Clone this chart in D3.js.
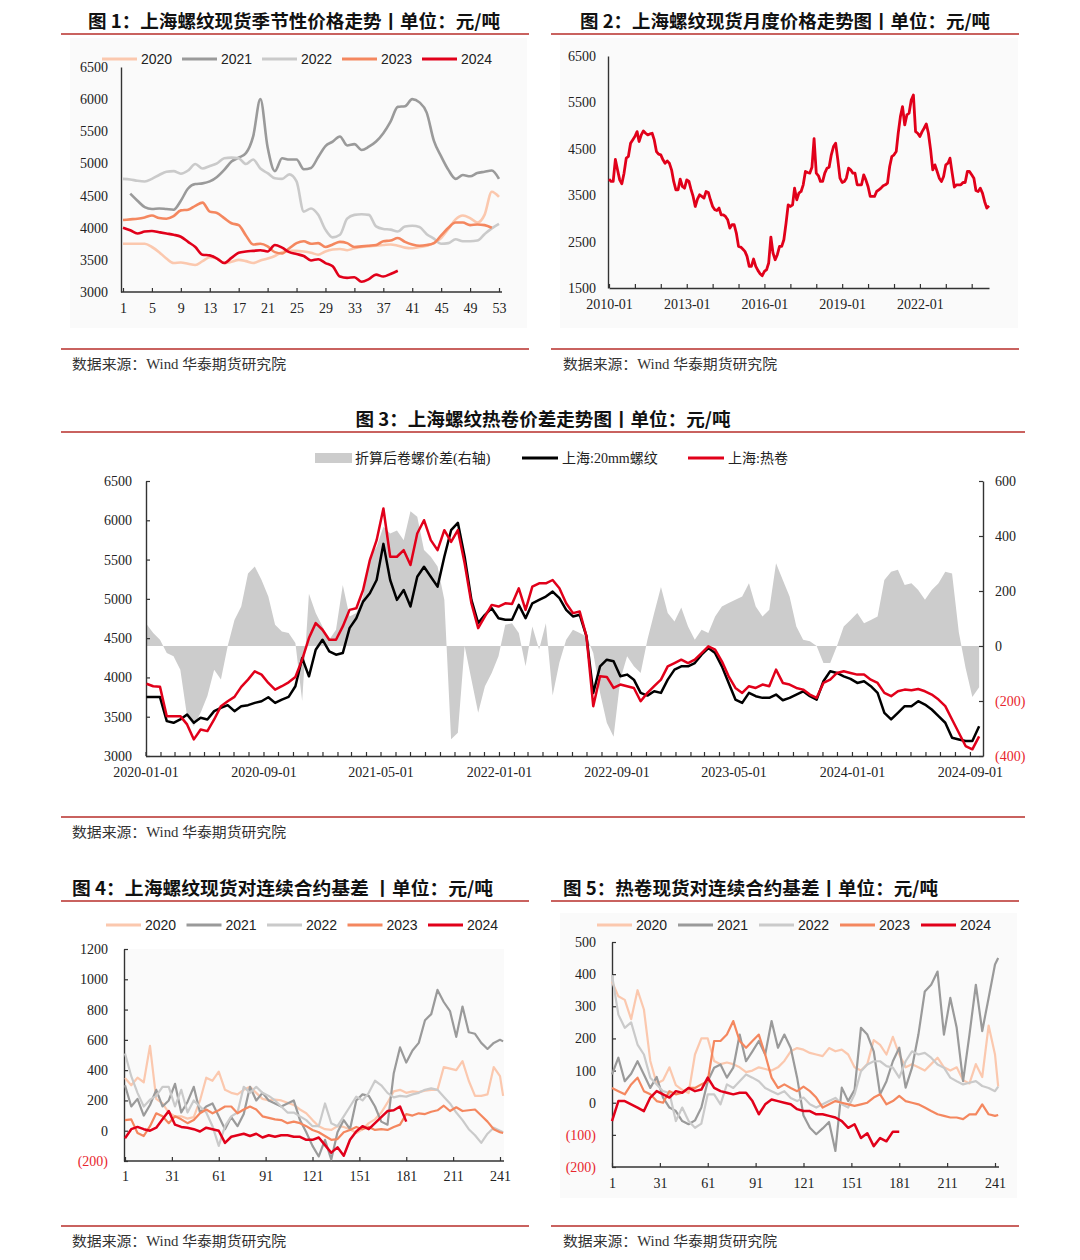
<!DOCTYPE html>
<html>
<head>
<meta charset="utf-8">
<script src="https://cdn.jsdelivr.net/npm/d3@7"></script>
<style>
  body { margin: 0; background: #fff; }
  svg text { font-family: "Liberation Serif", "Noto Sans CJK SC", serif; }
</style>
</head>
<body>
<div id="chart"></div>
<script>
// ---- data ----
var yearNames = ["2020", "2021", "2022", "2023", "2024"];
var yearColors = ["#fbc8ae", "#9a9a9a", "#cacaca", "#f4875f", "#e1001a"];

// fig 1: weekly rebar spot, week 1..53
var p1YTicks = [3000, 3500, 4000, 4500, 5000, 5500, 6000, 6500];
var p1XTicks = [1, 5, 9, 13, 17, 21, 25, 29, 33, 37, 41, 45, 49, 53];
var p1_2020 = [3750,3750,3750,3750,3700,3620,3520,3450,3460,3440,3420,3480,3540,3520,3450,3470,3500,3480,3450,3490,3520,3560,3620,3640,3640,3630,3610,3580,3630,3660,3670,3650,3680,3700,3710,3720,3730,3740,3720,3690,3680,3700,3720,3760,3840,3980,4130,4190,4150,4080,4200,4560,4480];
var p1_2021 = [null,4530,4420,4320,4290,4300,4290,4280,4420,4610,4680,4690,4720,4790,4900,5030,5090,5160,5420,6000,5250,4880,5080,5060,5060,4910,4930,5100,5270,5340,5420,5280,5300,5210,5260,5340,5470,5650,5880,5890,6000,5950,5790,5350,5110,4900,4760,4820,4800,4850,4870,4890,4760];
var p1_2022 = [4760,4750,4730,4720,4760,4820,4870,4880,4840,4890,4990,4920,4960,5000,5080,5090,5080,4990,5060,4920,4850,4770,4760,4830,4720,4250,4300,4200,3970,3850,3890,4140,4200,4210,4200,4020,3980,3970,3940,4020,4030,4010,3900,3830,3750,3760,3820,3790,3790,3800,3900,3990,4060];
var p1_2023 = [4120,4130,4140,4160,4190,4150,4140,4180,4270,4280,4340,4390,4250,4230,4150,4070,4040,3880,3740,3750,3710,3620,3600,3680,3760,3790,3750,3760,3700,3740,3780,3760,3700,3710,3720,3730,3790,3800,3840,3780,3740,3720,3730,3760,3880,4000,4080,4080,4040,4050,4040,4000,null];
var p1_2024 = [4000,3960,3910,3940,3950,3930,3910,3890,3860,3780,3700,3580,3570,3520,3450,3530,3610,3630,3640,3650,3630,3730,3690,3620,3590,3560,3490,3510,3450,3400,3240,3220,3230,3160,3200,3270,3240,3280,3330];

// fig 2: monthly rebar spot 2010-01 .. 2024-09
var p2YTicks = [1500, 2500, 3500, 4500, 5500, 6500];
var p2XTicks = ["2010-01", "2013-01", "2016-01", "2019-01", "2022-01"];
var p2Price = [
  3846,3796,3800,4270,4050,3831,3745,3975,4298,4334,4620,4692,
  4764,4870,4656,4800,4886,4835,4800,4821,4835,4692,4441,4384,
  4370,4262,4190,4240,4190,4047,3796,3616,3616,3846,3688,3652,
  3831,3796,3630,3473,3257,3415,3509,3473,3437,3580,3559,3401,
  3257,3186,3171,3222,3078,3078,3042,2971,2791,2863,2863,2684,
  2397,2382,2339,2289,2181,1966,1966,2124,1966,1880,1808,1765,
  1858,1895,2038,2598,2253,2110,2217,2397,2397,2540,2899,3293,
  3257,3293,3652,3401,3544,3580,3724,4011,3989,3975,4100,4720,
  3975,3918,3796,3796,3975,4082,4104,4370,4549,4620,4262,3867,
  3774,3796,3867,4082,4047,3975,3975,3724,3724,3724,3939,3831,
  3688,3473,3473,3473,3580,3616,3652,3702,3724,3760,4118,4334,
  4370,4441,4835,5194,5409,5014,5230,5266,5553,5661,4870,4835,
  4764,4870,4943,5037,4835,4477,4047,4154,4011,3867,3796,3903,
  4154,4190,4298,3975,3674,3724,3724,3724,3774,3774,4011,4011,
  3939,3867,3602,3580,3652,3544,3365,3222,3271
];

// fig 3: bi-weekly from 2020-01-03
var p3LeftTicks = [3000, 3500, 4000, 4500, 5000, 5500, 6000, 6500];
var p3RightTicks = [-400, -200, 0, 200, 400, 600];
var p3XTicks = ["2020-01-01", "2020-09-01", "2021-05-01", "2022-01-01", "2022-09-01", "2023-05-01", "2024-01-01", "2024-09-01"];
var p3Spread = [80,47,23,-25,-37,-86,-255,-291,-243,-182,-86,-122,0,95,144,264,289,240,180,77,53,47,11,-200,190,120,71,23,59,222,107,120,180,325,361,434,409,420,385,490,470,349,325,289,168,-339,-315,0,-122,-243,-146,-98,-37,77,83,47,-74,71,-13,83,-180,-60,23,59,47,35,-25,-170,-279,-330,-122,-37,-74,-98,23,120,215,120,89,140,71,23,59,47,107,144,156,168,180,228,144,107,132,301,240,180,71,23,17,0,-62,-62,0,71,95,120,83,95,107,240,270,277,222,228,204,168,204,228,270,264,50,-80,-185,-150];
var p3Rebar = [3750,3750,3750,3444,3423,3465,3528,3423,3486,3465,3571,3613,3647,3571,3634,3647,3676,3697,3748,3676,3718,3752,3888,4247,4014,4353,4480,4331,4289,4310,4627,4754,4965,5071,5240,5700,5240,4987,5113,4902,5282,5409,5282,5156,5536,5874,5968,5536,4987,4691,4796,4881,4754,4733,4733,4923,4754,4944,4987,5029,5092,5008,4860,4776,4797,4522,3803,4141,4226,4205,4014,4036,3972,3803,3769,3824,3803,3972,4099,4141,4141,4183,4289,4374,4310,4141,3930,3718,3676,3803,3761,3740,3740,3782,3710,3740,3782,3824,3761,3718,3951,4078,4057,4014,3981,3930,3951,3888,3803,3549,3465,3549,3634,3634,3697,3655,3592,3507,3423,3232,3211,3190,3190,3380];
var p3Hrc = [3920,3888,3880,3507,3507,3507,3402,3211,3338,3317,3465,3634,3697,3752,3880,3972,4078,4036,3930,3845,3888,3938,4006,4226,4501,4691,4607,4480,4480,4649,4860,4881,5113,5494,5747,6150,5536,5536,5620,5430,5832,6001,5747,5620,5874,5726,5874,5452,4944,4627,4776,4923,4902,4944,4936,5134,4860,5156,5198,5198,5240,5134,4944,4818,4839,4522,3634,4014,4006,3866,3909,3888,3866,3697,3803,3888,3972,4141,4183,4226,4183,4226,4310,4395,4353,4205,4014,3866,3803,3888,3866,3909,3888,4099,3930,3909,3866,3845,3782,3740,3930,3972,4057,4078,4057,4036,4036,3972,3930,3803,3761,3824,3845,3836,3853,3824,3782,3718,3634,3465,3296,3127,3085,3250];

// fig 4 / fig 5: basis, trading day 1..243 sampled every 4 days
var basisXTicks = [1, 31, 61, 91, 121, 151, 181, 211, 241];
var p4YTicks = [-200, 0, 200, 400, 600, 800, 1000, 1200];
var p4_2020 = [348,300,350,320,560,210,180,120,95,95,80,90,200,350,330,390,270,250,240,270,290,250,210,200,205,200,185,170,140,115,70,30,10,5,30,25,10,-15,10,50,75,120,185,260,270,250,260,255,265,270,270,420,410,400,460,330,230,230,240,420,360,230];
var p4_2021 = [300,160,210,100,170,270,160,200,310,120,190,290,120,160,180,95,10,90,30,110,290,200,250,200,180,160,180,200,70,-10,-100,-170,-60,-190,-10,70,10,200,240,230,160,60,40,380,550,450,530,580,730,770,930,850,790,620,820,650,640,580,540,580,600,590];
var p4_2022 = [510,360,250,160,205,230,290,290,160,270,120,200,160,120,30,-100,30,95,120,290,250,290,250,230,200,160,120,120,95,70,30,30,180,50,30,95,160,225,200,250,330,300,250,220,230,225,240,250,270,280,270,225,180,120,70,10,-30,-80,-20,20,0,-10];
var p4_2023 = [70,75,-15,-35,30,115,95,50,95,75,50,70,115,140,115,135,160,160,115,140,160,140,95,85,75,70,50,60,50,30,5,-10,-35,-60,-55,-10,5,25,10,25,5,10,5,25,40,110,100,115,110,125,135,165,130,155,130,135,140,100,60,10,-10,-15];
var p4_2024 = [-50,10,25,10,0,20,75,130,40,25,20,10,-5,20,10,0,-80,-40,-30,-20,-35,-20,-45,-30,-40,-30,-30,-40,-40,-60,-60,-45,-95,-145,-110,-165,-60,-5,30,10,50,90,130,135,160,60];

var p5YTicks = [-200, -100, 0, 100, 200, 300, 400, 500];
var p5_2020 = [377,331,320,260,350,290,130,60,70,110,55,40,30,150,200,200,130,120,125,120,110,95,100,110,105,100,110,130,160,170,165,155,150,145,170,160,165,150,110,100,120,195,180,150,205,150,110,120,110,100,120,140,110,100,110,70,60,120,80,240,150,50];
var p5_2021 = [88,140,67,90,129,88,46,80,16,-15,-26,-57,-67,-55,-15,67,109,119,78,109,212,129,160,192,150,254,171,212,170,78,-40,-78,-98,-80,-60,-150,47,5,40,233,212,160,26,67,129,171,47,109,212,346,367,408,212,326,233,67,212,367,223,326,430,450];
var p5_2022 = [397,274,233,250,181,150,78,57,36,30,-57,-15,-57,-78,-65,26,26,-5,57,46,67,88,78,67,46,36,26,36,15,5,16,-5,-15,-5,5,15,-5,-15,26,98,119,129,129,114,109,78,129,160,150,155,140,119,109,78,67,57,62,67,52,46,36,50];
var p5_2023 = [46,36,26,57,78,36,26,5,0,36,26,31,46,46,57,67,192,192,212,254,192,171,192,212,150,78,46,57,46,36,50,36,16,-15,-5,5,0,-5,-10,-5,0,16,26,-5,5,21,5,0,-5,-15,-26,-36,-41,-46,-46,-51,-36,-36,-5,-36,-41,-38];
var p5_2024 = [-57,5,5,-5,-15,-26,16,36,26,16,36,31,46,36,41,78,46,36,31,26,31,31,5,-36,-5,10,5,0,-5,-20,-26,-26,-36,-36,-41,-46,-57,-78,-67,-110,-95,-135,-110,-120,-90,-90];

// ---- helpers ----
var svg = d3.select("#chart").append("svg")
    .attr("width", 1080)
    .attr("height", 1260);

var ruleColor = "#c9625f";
var negRed = "#e8262d";
var cjkSans = "'Noto Sans CJK SC', sans-serif";

function rule(x1, x2, y) {
    svg.append("line")
        .attr("x1", x1).attr("x2", x2).attr("y1", y).attr("y2", y)
        .attr("stroke", ruleColor).attr("stroke-width", 2);
}

function title(txt, x, y, len, anchor) {
    svg.append("text")
        .attr("x", x).attr("y", y)
        .attr("text-anchor", anchor || "start")
        .attr("textLength", len).attr("lengthAdjust", "spacingAndGlyphs")
        .style("font-family", cjkSans)
        .style("font-weight", "bold")
        .style("font-size", "18px")
        .attr("fill", "#111")
        .text(txt);
}

function source(x, y) {
    svg.append("text")
        .attr("x", x).attr("y", y)
        .attr("textLength", 214).attr("lengthAdjust", "spacingAndGlyphs")
        .style("font-size", "14px")
        .attr("fill", "#333")
        .text("数据来源：Wind  华泰期货研究院");
}

// plain numbers, negatives in brackets
function negFmt(v) {
    return v < 0 ? "(" + Math.abs(v) + ")" : String(v);
}

function styleAxis(g) {
    g.select(".domain").attr("stroke", "#333").attr("stroke-width", 1.4);
    g.selectAll(".tick line").attr("stroke", "#333").attr("stroke-width", 1.2);
    g.selectAll(".tick text")
        .style("font-family", "'Liberation Serif', serif")
        .style("font-size", "14px")
        .attr("fill", function(d) { return (typeof d === "number" && d < 0) ? negRed : "#222"; });
}

function yearLegend(x0, step, y) {
    yearNames.forEach(function(name, i) {
        var lx = x0 + i * step;
        svg.append("line")
            .attr("x1", lx).attr("x2", lx + 35).attr("y1", y).attr("y2", y)
            .attr("stroke", yearColors[i]).attr("stroke-width", 3);
        svg.append("text")
            .attr("x", lx + 39).attr("y", y + 5)
            .style("font-family", "'Liberation Sans', Arial, sans-serif")
            .style("font-size", "14px")
            .attr("fill", "#222")
            .text(name);
    });
}

function drawLine(g, xs, ys, xAcc, vals, color, width, curve) {
    var line = d3.line()
        .defined(function(d) { return d != null; })
        .x(function(d, i) { return xs(xAcc[i]); })
        .y(function(d) { return ys(d); });
    if (curve) line.curve(curve);
    g.append("path")
        .attr("fill", "none")
        .attr("stroke", color)
        .attr("stroke-width", width)
        .attr("stroke-linejoin", "round")
        .attr("d", line(vals));
}

// ---- fig 1 ----
var g1 = svg.append("g");
g1.append("rect").attr("x", 70).attr("y", 38).attr("width", 457).attr("height", 290).attr("fill", "#fafafa");
title("图 1：上海螺纹现货季节性价格走势丨单位：元/吨", 88, 28, 412);
rule(61, 529, 34);

var weeks = d3.range(1, 54);
var x1 = d3.scaleLinear().domain([1, 53]).range([123, 499]);
var y1 = d3.scaleLinear().domain([3000, 6500]).range([292, 67]);

g1.append("g").attr("transform", "translate(0,292)")
    .call(d3.axisBottom(x1).tickValues(p1XTicks).tickSizeInner(-4).tickSizeOuter(0).tickPadding(11))
    .call(styleAxis);
g1.select("g .domain").attr("d", "M121,0H502");
g1.append("g").attr("transform", "translate(121,0)")
    .call(d3.axisLeft(y1).tickValues(p1YTicks).tickSizeInner(0).tickSizeOuter(0).tickPadding(13).tickFormat(negFmt))
    .call(styleAxis);

[p1_2020, p1_2021, p1_2022, p1_2023, p1_2024].forEach(function(s, i) {
    drawLine(g1, x1, y1, weeks, s, yearColors[i], 2.6, d3.curveMonotoneX);
});
yearLegend(102, 80, 59);

rule(61, 529, 349);
source(72, 369);

// ---- fig 2 ----
var g2 = svg.append("g");
g2.append("rect").attr("x", 560).attr("y", 38).attr("width", 458).attr("height", 290).attr("fill", "#fafafa");
title("图 2：上海螺纹现货月度价格走势图丨单位：元/吨", 580, 28, 410);
rule(551, 1019, 34);

var p2Dates = p2Price.map(function(d, i) { return d3.timeMonth.offset(new Date(2010, 0, 1), i); });
var x2 = d3.scaleTime().domain([new Date(2010, 0, 1), new Date(2024, 8, 1)]).range([609, 989]);
var y2 = d3.scaleLinear().domain([1500, 6500]).range([288, 56]);
var parseMonth = d3.timeParse("%Y-%m");

g2.append("g").attr("transform", "translate(0,288)")
    .call(d3.axisBottom(x2).ticks(d3.timeYear.every(1)).tickSizeInner(-4).tickSizeOuter(0).tickFormat(""))
    .call(styleAxis);
g2.append("g").attr("transform", "translate(0,288)")
    .call(d3.axisBottom(x2).tickValues(p2XTicks.map(parseMonth)).tickSize(0).tickPadding(11).tickFormat(d3.timeFormat("%Y-%m")))
    .call(styleAxis)
    .select(".domain").remove();
g2.append("g").attr("transform", "translate(608,0)")
    .call(d3.axisLeft(y2).tickValues(p2YTicks).tickSizeInner(0).tickSizeOuter(0).tickPadding(12).tickFormat(negFmt))
    .call(styleAxis);
drawLine(g2, x2, y2, p2Dates, p2Price, "#e1001a", 2.8);

rule(551, 1019, 349);
source(563, 369);

// ---- fig 3 ----
var g3 = svg.append("g");
title("图 3：上海螺纹热卷价差走势图丨单位：元/吨", 543, 426, 375, "middle");
rule(61, 1025, 432);

var p3Dates = p3Rebar.map(function(d, i) { return d3.timeDay.offset(new Date(2020, 0, 3), 14 * i); });
var parseDay = d3.timeParse("%Y-%m-%d");
var x3 = d3.scaleTime().domain([new Date(2020, 0, 1), new Date(2024, 8, 28)]).range([145.5, 983]);
var y3 = d3.scaleLinear().domain([3000, 6500]).range([756, 481]);
var y3r = d3.scaleLinear().domain([-400, 600]).range([756, 481]);

var area3 = d3.area()
    .x(function(d, i) { return x3(p3Dates[i]); })
    .y0(y3r(0))
    .y1(function(d) { return y3r(d); });
g3.append("path").attr("fill", "#cccccc").attr("d", area3(p3Spread));

g3.append("g").attr("transform", "translate(0,756)")
    .call(d3.axisBottom(x3).ticks(d3.timeMonth.every(1)).tickSizeInner(-4).tickSizeOuter(0).tickFormat(""))
    .call(styleAxis);
g3.append("g").attr("transform", "translate(0,756)")
    .call(d3.axisBottom(x3).tickValues(p3XTicks.map(parseDay)).tickSize(0).tickPadding(11).tickFormat(d3.timeFormat("%Y-%m-%d")))
    .call(styleAxis)
    .select(".domain").remove();
g3.append("g").attr("transform", "translate(146,0)")
    .call(d3.axisLeft(y3).tickValues(p3LeftTicks).tickSizeInner(-4).tickSizeOuter(0).tickPadding(14).tickFormat(negFmt))
    .call(styleAxis);
g3.append("g").attr("transform", "translate(983,0)")
    .call(d3.axisRight(y3r).tickValues(p3RightTicks).tickSizeInner(-4).tickSizeOuter(0).tickPadding(12).tickFormat(negFmt))
    .call(styleAxis);

drawLine(g3, x3, y3, p3Dates, p3Rebar, "#000000", 2.5);
drawLine(g3, x3, y3, p3Dates, p3Hrc, "#e1001a", 2.5);

// legend fig 3
g3.append("rect").attr("x", 315).attr("y", 453).attr("width", 37).attr("height", 10).attr("fill", "#cccccc");
g3.append("text").attr("x", 355).attr("y", 463).style("font-size", "14px").attr("fill", "#222").text("折算后卷螺价差(右轴)");
g3.append("line").attr("x1", 522).attr("x2", 558).attr("y1", 458).attr("y2", 458).attr("stroke", "#000").attr("stroke-width", 3);
g3.append("text").attr("x", 562).attr("y", 463).style("font-size", "14px").attr("fill", "#222").text("上海:20mm螺纹");
g3.append("line").attr("x1", 688).attr("x2", 724).attr("y1", 458).attr("y2", 458).attr("stroke", "#e1001a").attr("stroke-width", 3);
g3.append("text").attr("x", 728).attr("y", 463).style("font-size", "14px").attr("fill", "#222").text("上海:热卷");

rule(61, 1025, 817);
source(72, 837);

// ---- fig 4 ----
var basisDays = d3.range(1, 242, 4).concat([243]);
var g4 = svg.append("g");
g4.append("rect").attr("x", 124).attr("y", 949).attr("width", 380).attr("height", 212).attr("fill", "#fafafa");
title("图 4：上海螺纹现货对连续合约基差 丨单位：元/吨", 72, 895, 421);
rule(61, 529, 901);

var x4 = d3.scaleLinear().domain([1, 241]).range([125, 500]);
var y4 = d3.scaleLinear().domain([-200, 1200]).range([1161, 949]);

g4.append("g").attr("transform", "translate(0,1161)")
    .call(d3.axisBottom(x4).tickValues(basisXTicks).tickSizeInner(-4).tickSizeOuter(0).tickPadding(10))
    .call(styleAxis);
g4.select("g .domain").attr("d", "M124,0H504");
g4.append("g").attr("transform", "translate(124,0)")
    .call(d3.axisLeft(y4).tickValues(p4YTicks).tickSizeInner(-4).tickSizeOuter(0).tickPadding(16).tickFormat(negFmt))
    .call(styleAxis);
[p4_2020, p4_2021, p4_2022, p4_2023, p4_2024].forEach(function(s, i) {
    drawLine(g4, x4, y4, basisDays, s, yearColors[i], i === 4 ? 2.5 : 2.2);
});
yearLegend(106, 80.5, 925);

rule(61, 529, 1226);
source(72, 1246);

// ---- fig 5 ----
var g5 = svg.append("g");
g5.append("rect").attr("x", 560).attr("y", 913).attr("width", 457).attr("height", 285).attr("fill", "#fafafa");
title("图 5：热卷现货对连续合约基差丨单位：元/吨", 563, 895, 375);
rule(551, 1019, 901);

var x5 = d3.scaleLinear().domain([1, 241]).range([612, 995]);
var y5 = d3.scaleLinear().domain([-200, 500]).range([1167, 942]);

g5.append("g").attr("transform", "translate(0,1167)")
    .call(d3.axisBottom(x5).tickValues(basisXTicks).tickSizeInner(-4).tickSizeOuter(0).tickPadding(11))
    .call(styleAxis);
g5.select("g .domain").attr("d", "M612,0H999");
g5.append("g").attr("transform", "translate(612,0)")
    .call(d3.axisLeft(y5).tickValues(p5YTicks).tickSizeInner(-4).tickSizeOuter(0).tickPadding(16).tickFormat(negFmt))
    .call(styleAxis);
[p5_2020, p5_2021, p5_2022, p5_2023, p5_2024].forEach(function(s, i) {
    drawLine(g5, x5, y5, basisDays, s, yearColors[i], i === 4 ? 2.5 : 2.2);
});
yearLegend(597, 81, 925);

rule(551, 1019, 1226);
source(563, 1246);
</script>
</body>
</html>
